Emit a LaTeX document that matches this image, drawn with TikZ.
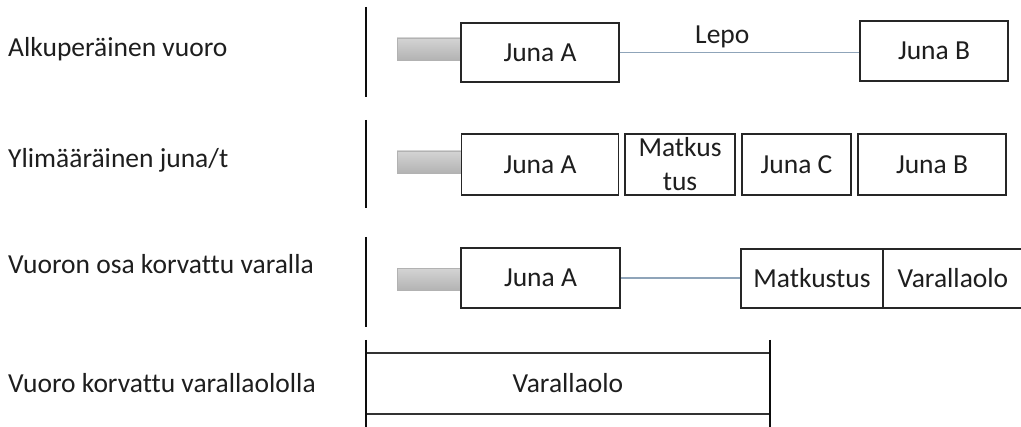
\documentclass[tikz,border=0pt]{standalone}
\usepackage{fontspec}
\setmainfont{Carlito}[Ligatures={NoCommon}]
\newcommand\diafs{\fontsize{27.5}{34}\selectfont}
\definecolor{linkcol}{HTML}{8FA4B9}
\definecolor{txt}{HTML}{1E1E1E}
\begin{document}
\begin{tikzpicture}[x=1pt,y=-1pt,
  lbl/.style={anchor=base west, inner sep=0pt, font=\diafs, text=txt},
  box/.style={draw=black!85, line width=1.6pt, fill=white, inner sep=0pt, font=\diafs, text=txt, align=center},
  stub/.style={draw=black!30, top color=black!17, bottom color=black!30, line width=0.6pt, minimum width=64pt, minimum height=22pt, inner sep=0pt},
  sep/.style={draw=black!95, line width=2.4pt},
  edge4/.style={draw=black!80, line width=1.6pt},
  link/.style={draw=linkcol, line width=1.4pt}]
\useasboundingbox (0,0) rectangle (1021,427);

% labels
\node[lbl] (l1) at (8,57) {Alkuperäinen vuoro};
\node[lbl] (l2) at (8,168) {Ylimääräinen juna/t};
\node[lbl] (l3) at (8,274) {Vuoron osa korvattu varalla};
\node[lbl] (l4) at (8,393) {Vuoro korvattu varallaololla};

% separators
\draw[sep] (366,7) -- (366,97);
\draw[sep] (366,120) -- (366,208);
\draw[sep] (366,237) -- (366,327);

% row 1
\node[stub] (s1) at (429,49) {};
\node[box, minimum width=158pt, minimum height=59pt] (a1) at (540,52.5) {Juna A};
\node[box, minimum width=148pt, minimum height=60pt] (b1) at (934,51) {Juna B};
\draw[link] (a1.east) -- (a1.east -| b1.west);
\node[lbl] (lepo) at (695,44) {Lepo};

% row 2
\node[stub] (s2) at (429,162) {};
\node[box, minimum width=157pt, minimum height=61pt] (a2) at (540,164.5) {Juna A};
\node[box, minimum width=110pt, minimum height=61pt] (m2) at (680,164.5) {Matkus\\tus};
\node[box, minimum width=109pt, minimum height=61pt] (c2) at (796.5,164.5) {Juna C};
\node[box, minimum width=148pt, minimum height=61pt] (b2) at (932,164.5) {Juna B};

% row 3
\node[stub] (s3) at (429,279.5) {};
\node[box, minimum width=159pt, minimum height=60pt] (a3) at (540.5,278) {Juna A};
\node[box, minimum width=142pt, minimum height=59pt] (m3) at (812,278.5) {Matkustus};
\node[box, minimum width=140pt, minimum height=59pt] (v3) at (953,278.5) {Varallaolo};
\draw[link] (a3.east) -- (a3.east -| m3.west);

% row 4
\node[inner sep=0pt, font=\diafs, text=txt, minimum width=404pt, minimum height=61pt] (v4) at (568,383.5) {Varallaolo};
\draw[edge4] (v4.north west) -- (v4.north east);
\draw[edge4] (v4.south west) -- (v4.south east);
\draw[sep] (v4.north west) ++(0,-13) -- ++(0,88);
\draw[sep] (v4.north east) ++(0,-13) -- ++(0,88);
\end{tikzpicture}
\end{document}
